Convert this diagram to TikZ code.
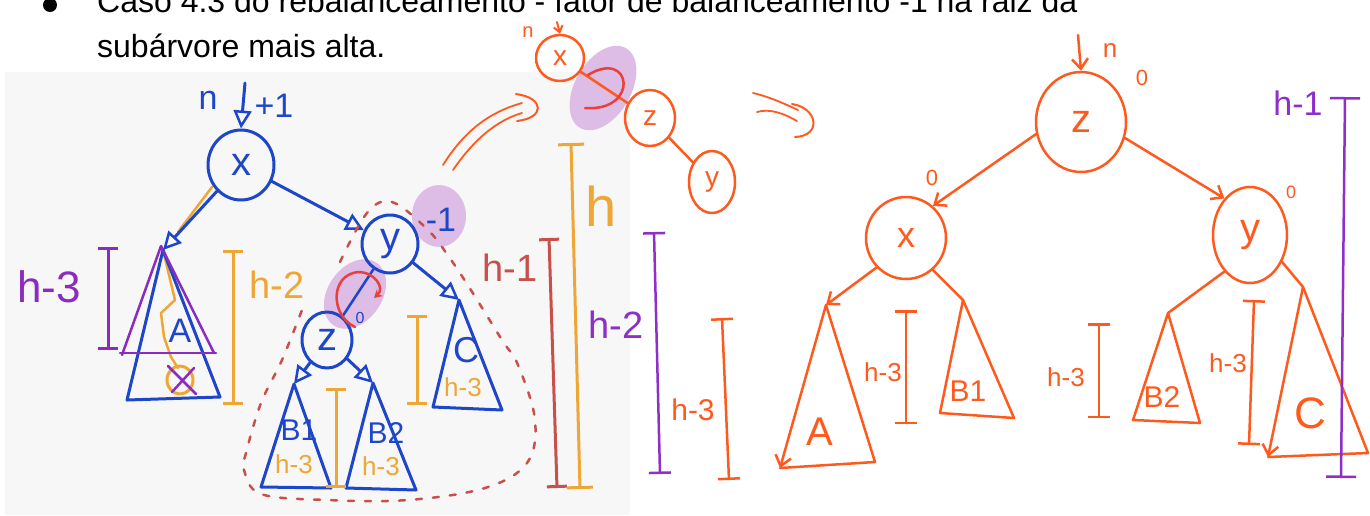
\documentclass[tikz,border=0pt]{standalone}
\usepackage{fontspec}
\setmainfont{Liberation Sans}
\usetikzlibrary{arrows.meta,shapes.geometric}
\definecolor{mblue}{HTML}{1E46C9}
\definecolor{morange}{HTML}{EEA736}
\definecolor{mpurple}{HTML}{8B2BBF}
\definecolor{mred}{HTML}{C8504A}
\definecolor{blob}{HTML}{DDBCE6}
\definecolor{rorange}{HTML}{FF5A1E}
\definecolor{rred}{HTML}{E8403A}
\definecolor{rpurple}{HTML}{8E30C8}
\definecolor{panel}{HTML}{F7F7F7}
\newcommand{\fs}[1]{\fontsize{#1}{#1}\selectfont}
\begin{document}
\begin{tikzpicture}[x=1pt, y=-1pt, line cap=round, line join=round,
  lab/.style={inner sep=0pt, font=\fs{#1}},
  bnode/.style={ellipse, draw=mblue, line width=3pt, inner sep=0pt, text=mblue, font=\fs{40}},
  bline/.style={draw=mblue, line width=3pt},
  bedge/.style={bline, -{Triangle[open,length=18pt,width=18pt,line width=2.5pt]}},
  oline/.style={draw=morange, line width=3pt},
  brk/.style={line width=3pt, {Bar[width=#1,line width=3pt]}-{Bar[width=#1,line width=3pt]}},
  brk/.default=20pt,
  rnode/.style={ellipse, draw=rorange, line width=2.5pt, inner sep=0pt, text=rorange},
  rline/.style={draw=rorange, line width=2.5pt},
  redge/.style={rline, -{Straight Barb[length=10pt,width=16pt,line width=2.5pt]}},
  rbrk/.style={draw=rorange, line width=2.5pt, {Bar[width=22pt,line width=2.5pt]}-{Bar[width=22pt,line width=2.5pt]}}
]
\useasboundingbox (0,0) rectangle (1370,515);
\fill[white] (0,0) rectangle (1370,515);
% ---------- header ----------
\fill[black] (50,5) circle[radius=7pt];
\node[lab=32, anchor=base west] (l1) at (97,12) {Caso 4.3 do rebalanceamento - fator de balanceamento -1 na raiz da};
\node[lab=32, anchor=base west] (l2) at (97,57) {subárvore mais alta.};
% ---------- left panel ----------
\fill[panel] (5,72) rectangle (630,515);
% blobs
\fill[blob] (439,216) ellipse[x radius=27pt, y radius=31pt];
\fill[blob, rotate around={-35:(355,294)}] (355,294) ellipse[x radius=27pt, y radius=38pt];
% nodes
\node[bnode, minimum width=66pt, minimum height=70pt] (X) at (241,165) {x};
\node[bnode, minimum width=56pt, minimum height=58pt] (Y) at (390,244) {y};
\node[bnode, minimum width=50pt, minimum height=56pt] (Z) at (327,340) {z};
\node[lab=34, text=mblue] (n1) at (208,100) {n};
\node[lab=34, text=mblue] (p1) at (274,106) {+1};
\coordinate (rt) at (245,83);
\draw[bedge] (rt) -- (X.north);
\node[lab=34, text=mblue] (m1) at (441,220) {-1};
\node[lab=16, text=mblue] (z0) at (360,318) {0};
% subtree A
\coordinate (Aap) at (163,250);
\coordinate (Abl) at (127,400);
\coordinate (Abr) at (220,397);
\draw[oline, line width=2.5pt] (212,187) -- (178,232);
\draw[oline, line width=2.5pt] (Aap) -- (175,300) -- (161,313) -- (164,337) -- (171,357) -- (178,368);
\draw[bline] (Aap) -- (Abl) -- (Abr) -- cycle;
\draw[draw=mpurple, line width=2.5pt] (122,355) -- (161,246) -- (214,353);
\draw[draw=mpurple, line width=2.5pt] (120,353) -- (216,353);
\draw[oline] (180,380) ellipse[x radius=13pt, y radius=14pt];
\draw[draw=mpurple, line width=2.5pt] (168,366) -- (196,394) (194,368) -- (172,392);
\node[lab=34, text=mblue] (Alab) at (180,331) {A};
\draw[bedge] (X) -- (Aap);
\draw[bedge] (X) -- (Y);
% subtree C
\coordinate (Cap) at (459,300);
\draw[bline] (Cap) -- (433,407) -- (502,410) -- cycle;
\draw[bedge] (Y) -- (Cap);
\node[lab=36, text=mblue] (Clab) at (466,350) {C};
\node[lab=26, text=morange] (Ch) at (463,387) {h-3};
% y -> z with rotation mark
\draw[bline, line width=2.5pt] (Y) -- (Z);
\draw[draw=rred, line width=2.5pt, -{Stealth[length=8pt,width=9pt]}] (355,327) .. controls (330,315) and (330,275) .. (358,272) .. controls (375,272) and (385,288) .. (374,298);
% subtrees B1 B2
\coordinate (B1ap) at (294,384);
\coordinate (B2ap) at (373,383);
\draw[bline] (B1ap) -- (261,487) -- (331,488) -- cycle;
\draw[bline] (B2ap) -- (346,488) -- (416,490) -- cycle;
\draw[bedge] (Z) -- (B1ap);
\draw[bedge] (Z) -- (B2ap);
\node[lab=30, text=mblue] (B1lab) at (299,430) {B1};
\node[lab=30, text=mblue] (B2lab) at (386,433) {B2};
\node[lab=26, text=morange] (B1h) at (294,464) {h-3};
\node[lab=26, text=morange] (B2h) at (381,466) {h-3};
% dashed outline
\draw[mred, line width=2.5pt, dash pattern=on 6pt off 11pt] plot[smooth, tension=0.6] coordinates {(340,262) (367,213) (392,202) (428,230) (449,257) (469,287) (502,340) (518,365) (535,420) (527,463) (485,488) (408,500) (327,500) (261,494) (244,470) (246,453) (261,403) (282,360) (302,310)};
% left brackets and labels
\coordinate (pb1t) at (108,247); \coordinate (pb1b) at (108,350);
\draw[brk, mpurple] (pb1t) -- (pb1b);
\node[lab=44, text=mpurple] (h3a) at (49,287) {h-3};
\coordinate (ob1t) at (233,250); \coordinate (ob1b) at (233,405);
\draw[brk, morange] (ob1t) -- (ob1b);
\node[lab=38, text=morange] (h2a) at (277,285) {h-2};
\coordinate (ob2t) at (417,315); \coordinate (ob2b) at (417,405);
\draw[brk, morange] (ob2t) -- (ob2b);
\coordinate (ob3t) at (336,388); \coordinate (ob3b) at (336,488);
\draw[brk, morange] (ob3t) -- (ob3b);
\coordinate (rb1t) at (549,238); \coordinate (rb1b) at (557,488);
\draw[brk, mred] (rb1t) -- (rb1b);
\node[lab=38, text=mred] (h1a) at (510,268) {h-1};
\coordinate (ob4t) at (571,143); \coordinate (ob4b) at (580,489);
\draw[brk=26pt, morange] (ob4t) -- (ob4b);
\node[lab=56, text=morange] (hh) at (601,206) {h};
% ---------- middle ----------
\draw[rline, line width=1.8pt] (443,165) .. controls (465,130) and (490,112) .. (522,103);
\draw[rline, line width=1.8pt] (453,170) .. controls (475,138) and (498,120) .. (522,113);
\draw[rline, line width=2pt] (516,94) .. controls (545,98) and (545,118) .. (517,121);
\fill[blob, rotate around={-30:(603,88)}] (603,88) ellipse[x radius=28pt, y radius=46pt];
\node[rnode, minimum width=48pt, minimum height=46pt, font=\fs{28}] (MX) at (560,58) {x};
\node[rnode, minimum width=50pt, minimum height=56pt, font=\fs{28}] (MZ) at (650,118) {z};
\node[rnode, minimum width=46pt, minimum height=62pt, font=\fs{28}] (MY) at (712,182) {y};
\node[lab=20, text=rorange] (n2) at (528,32) {n};
\coordinate (rt2) at (557,22);
\draw[rline, line width=2pt, -{Straight Barb[length=6pt,width=9pt]}] (rt2) -- (MX.north);
\draw[rline] (MX) -- (MZ);
\draw[rline] (MZ) -- (MY);
\draw[draw=rred, line width=2.5pt] (588,75) .. controls (632,48) and (640,112) .. (585,108);
\draw[rline, line width=1.8pt] (753,93) .. controls (770,97) and (785,104) .. (798,110);
\draw[rline, line width=1.8pt] (757,112) .. controls (770,108) and (785,114) .. (797,121);
\draw[rline, line width=2pt] (792,104) .. controls (818,108) and (822,136) .. (795,137);
% ---------- right tree ----------
\node[rnode, minimum width=90pt, minimum height=100pt, font=\fs{40}] (RZ) at (1081,122) {z};
\node[rnode, minimum width=80pt, minimum height=82pt, font=\fs{36}] (RX) at (906,238) {x};
\node[rnode, minimum width=74pt, minimum height=96pt, font=\fs{40}] (RY) at (1250,235) {y};
\coordinate (rt3) at (1078,35);
\draw[redge] (rt3) -- (RZ.north);
\node[lab=26, text=rorange] (n3) at (1110,50) {n};
\node[lab=22, text=rorange] (z0r) at (1142,78) {0};
\node[lab=22, text=rorange] (x0r) at (932,178) {0};
\node[lab=18, text=rorange] (y0r) at (1291,192) {0};
\draw[redge] (RZ.195) -- (RX.50);
\draw[redge] (RZ.340) -- (RY.125);
\coordinate (RAap) at (826,305); \coordinate (RAbl) at (780,468); \coordinate (RAbr) at (875,462);
\coordinate (RB1ap) at (963,300); \coordinate (RB1bl) at (940,413); \coordinate (RB1br) at (1014,418);
\coordinate (RB2ap) at (1168,313); \coordinate (RB2bl) at (1133,420); \coordinate (RB2br) at (1200,423);
\coordinate (RCap) at (1303,287); \coordinate (RCbl) at (1268,457); \coordinate (RCbr) at (1368,453);
\draw[redge] (RX.225) -- (RAap);
\draw[rline] (RX.310) -- (RB1ap);
\draw[rline] (RY.235) -- (RB2ap);
\draw[rline] (RY.320) -- (RCap);
\draw[rline] (RAbl) -- (RAbr) -- (RAap);
\draw[redge] (RAap) -- (RAbl);
\draw[rline] (RB1ap) -- (RB1bl) -- (RB1br) -- cycle;
\draw[rline] (RB2ap) -- (RB2bl) -- (RB2br) -- cycle;
\draw[rline] (RCbl) -- (RCbr) -- (RCap);
\draw[redge] (RCap) -- (RCbl);
\node[lab=40, text=rorange] (RAl) at (820,432) {A};
\node[lab=30, text=rorange] (RB1l) at (968,391) {B1};
\node[lab=30, text=rorange] (RB2l) at (1162,397) {B2};
\node[lab=44, text=rorange] (RCl) at (1310,413) {C};
% right brackets
\coordinate (q1t) at (722,318); \coordinate (q1b) at (729,480);
\draw[rbrk] (q1t) -- (q1b);
\node[lab=30, text=rorange] (q1l) at (693,410) {h-3};
\coordinate (q2t) at (906,310); \coordinate (q2b) at (906,424);
\draw[rbrk] (q2t) -- (q2b);
\node[lab=26, text=rorange] (q2l) at (883,372) {h-3};
\coordinate (q3t) at (1099,323); \coordinate (q3b) at (1099,418);
\draw[rbrk] (q3t) -- (q3b);
\node[lab=26, text=rorange] (q3l) at (1066,377) {h-3};
\coordinate (q4t) at (1254,300); \coordinate (q4b) at (1249,445);
\draw[rbrk] (q4t) -- (q4b);
\node[lab=26, text=rorange] (q4l) at (1228,363) {h-3};
\coordinate (p1t) at (654,232); \coordinate (p1b) at (660,474);
\draw[draw=rpurple, line width=2.5pt, {Bar[width=22pt,line width=2.5pt]}-{Bar[width=22pt,line width=2.5pt]}] (p1t) -- (p1b);
\node[lab=38, text=rpurple] (p1l) at (616,325) {h-2};
\coordinate (p2t) at (1345,97); \coordinate (p2b) at (1341,478);
\draw[draw=rpurple, line width=2.5pt, {Bar[width=30pt,line width=2.5pt]}-{Bar[width=30pt,line width=2.5pt]}] (p2t) -- (p2b);
\node[lab=34, text=rpurple] (p2l) at (1298,103) {h-1};
\end{tikzpicture}
\end{document}
